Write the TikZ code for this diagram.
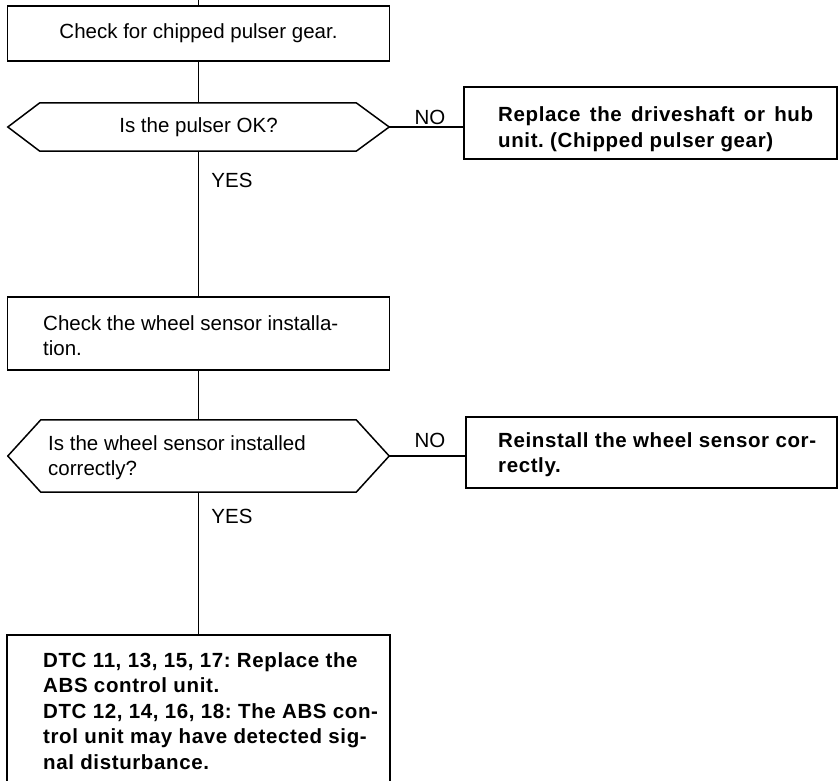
\documentclass[tikz,border=0pt]{standalone}
\usepackage{fontspec}
\setmainfont{Liberation Sans}
\newfontfamily\boldtxt[LetterSpace=3]{Liberation Sans}
\usetikzlibrary{calc}
\frenchspacing
\tikzset{
  every picture/.style={x=1pt,y=-1pt},
  lin/.style={line width=1.5pt,black},
  boxnode/.style={draw,line width=1.5pt,rectangle,inner sep=0pt,font=\fontsize{20.5}{25.5}\selectfont},
  hexnode/.style={rectangle,inner sep=0pt,font=\fontsize{20.5}{25.5}\selectfont},
  txt/.style={inner sep=0pt,anchor=north west,align=left,font=\fontsize{20.5}{25.5}\selectfont},
  btxt/.style={inner sep=0pt,anchor=north west,align=left,font=\fontsize{20.5}{25.5}\boldtxt\bfseries},
  lbl/.style={inner sep=0pt,font=\fontsize{20.5}{25.5}\selectfont},
}
\begin{document}
\begin{tikzpicture}
\useasboundingbox (0,0) rectangle (838,781);
\coordinate (top) at (198.5,-2);
% boxes
\node[boxnode,minimum width=382,minimum height=55] (b1) at (198.5,33.5) {Check for chipped pulser gear.};
\node[hexnode,minimum width=381,minimum height=48] (d1) at (198.5,127) {Is the pulser OK?};
\draw[lin] (d1.west) -- ($(d1.north west)+(32,0)$) -- ($(d1.north east)+(-33,0)$) -- (d1.east)
  -- ($(d1.south east)+(-33,0)$) -- ($(d1.south west)+(32,0)$) -- cycle;
\node[boxnode,minimum width=373,minimum height=72] (r1) at (650.5,123) {};
\node[btxt] (r1t) at (498,106.5) {Replace\hspace{3pt} the\hspace{3pt} driveshaft\hspace{3pt} or\hspace{3pt} hub\\unit. (Chipped pulser gear)};

\node[boxnode,minimum width=382,minimum height=73] (b2) at (198.5,333.5) {};
\node[txt] (b2t) at (43,315) {Check the wheel sensor installa-\\tion.};

\node[hexnode,minimum width=381,minimum height=72] (d2) at (198.5,456) {};
\draw[lin] (d2.west) -- ($(d2.north west)+(33,0)$) -- ($(d2.north east)+(-33,0)$) -- (d2.east)
  -- ($(d2.south east)+(-33,0)$) -- ($(d2.south west)+(33,0)$) -- cycle;
\node[txt] (d2t) at (48,435) {Is the wheel sensor installed\\correctly?};

\node[boxnode,minimum width=371,minimum height=71] (r2) at (651.5,452.5) {};
\node[btxt] (r2t) at (498,432) {Reinstall the wheel sensor cor-\\rectly.};

\node[boxnode,minimum width=383,minimum height=170] (b3) at (198.5,720) {};
\node[btxt] (b3t) at (43,652) {DTC 11, 13, 15, 17: Replace the\\ABS control unit.\\DTC 12, 14, 16, 18: The ABS con-\\trol unit may have detected sig-\\nal disturbance.};

% labels
\node[lbl] (no1) at (430,117) {NO};
\node[lbl] (yes1) at (232,180) {YES};
\node[lbl] (no2) at (430,440) {NO};
\node[lbl] (yes2) at (232,516) {YES};

% connectors
\draw[lin] (top) -- (b1.north);
\draw[lin] (b1.south) -- (d1.north);
\draw[lin] (d1.south) -- (b2.north);
\draw[lin] (b2.south) -- (d2.north);
\draw[lin] (d2.south) -- (b3.north);
\draw[lin] (d1.east) -- (d1.east -| r1.west);
\draw[lin] (d2.east) -- (d2.east -| r2.west);
\end{tikzpicture}
\end{document}
